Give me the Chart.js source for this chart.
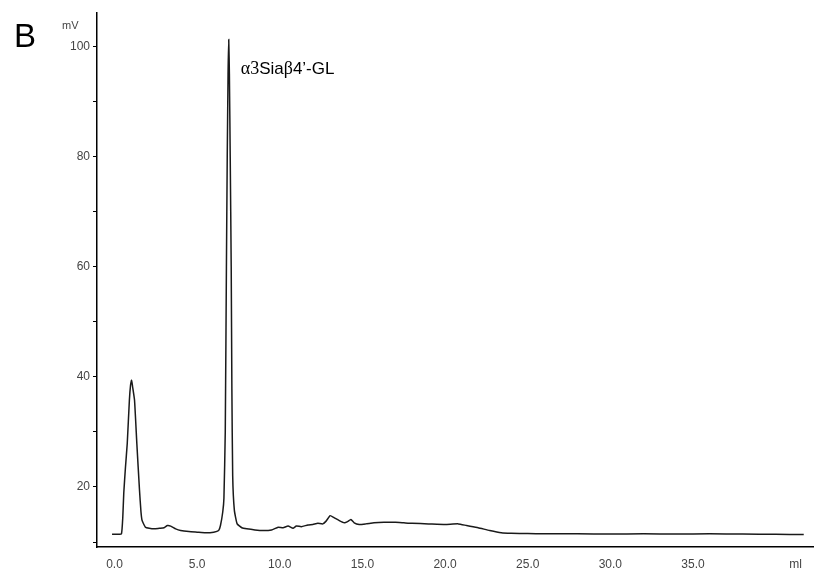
<!DOCTYPE html>
<html>
<head>
<meta charset="utf-8">
<script src="https://cdn.jsdelivr.net/npm/chart.js@4.4.0/dist/chart.umd.min.js"></script>
<style>
  html, body { margin: 0; padding: 0; background: #fff; }
  #wrap { width: 814px; height: 571px; }
</style>
</head>
<body>
<div id="wrap"><canvas id="chart"></canvas></div>
<script>
// elution volume (ml) and detector signal (mV)
const volumes = [-0.15, 0.2, 0.42, 0.5, 0.56, 0.66, 0.77, 0.9, 0.97, 1.03, 1.09, 1.21, 1.35, 1.51, 1.6, 1.67, 1.87,
  2.1, 2.4, 2.7, 3.0, 3.2, 3.4, 3.7, 4.0, 4.5, 5.0, 5.5, 6.0, 6.3, 6.41, 6.55, 6.62, 6.7, 6.77, 6.82, 6.87, 6.91,
  6.95, 7.0, 7.06, 7.1, 7.15, 7.25, 7.42, 7.7, 8.0, 8.5, 9.0, 9.5, 9.9, 10.2, 10.5, 10.8, 11.0, 11.3, 11.7, 12.0,
  12.3, 12.6, 12.8, 13.05, 13.3, 13.6, 13.9, 14.1, 14.3, 14.5, 14.8, 15.2, 15.7, 16.3, 17.0, 17.5, 18.0, 19.0,
  20.0, 20.8, 21.3, 22.0, 22.7, 23.4, 24.0, 25, 26, 28, 30, 32, 34, 36, 38, 40, 41.7];
const signal = [11.4, 11.4, 11.5, 14.5, 18.9, 23.5, 27.9, 35.8, 38.5, 39.4, 38.3, 35.8, 27.9, 19.5, 15.5, 13.9, 12.7,
  12.5, 12.4, 12.5, 12.6, 13.0, 12.9, 12.4, 12.1, 11.9, 11.8, 11.7, 11.8, 12.1, 13.0, 15.5, 18.0, 30, 60, 80, 95, 101.3,
  95, 80, 60, 38, 22, 15.8, 13.3, 12.6, 12.4, 12.2, 12.1, 12.2, 12.7, 12.6, 12.9, 12.5, 12.9, 12.8, 13.1, 13.2,
  13.4, 13.3, 13.8, 14.8, 14.4, 13.9, 13.5, 13.7, 14.1, 13.5, 13.2, 13.3, 13.5, 13.6, 13.6, 13.5, 13.4, 13.3,
  13.2, 13.3, 13.0, 12.6, 12.1, 11.7, 11.6, 11.55, 11.5, 11.5, 11.45, 11.5, 11.45, 11.5, 11.45, 11.4, 11.35];

const xTicks = [0, 5, 10, 15, 20, 25, 30, 35];
const yTicks = [10, 20, 30, 40, 50, 60, 70, 80, 90, 100];
const yLabelled = [20, 40, 60, 80, 100];
const xUnit = 'ml';
const yUnit = 'mV';
const panelLetter = 'B';
const peakVolume = 6.91;
const peakName = [['α3', 'serif'], ['Sia', 'sans'], ['β', 'serif'], ['4\u2019-GL', 'sans']];

const points = volumes.map((v, i) => ({ x: v, y: signal[i] }));

const textPlugin = {
  id: 'texts',
  afterDraw(chart) {
    const ctx = chart.ctx;
    const xs = chart.scales.x, ys = chart.scales.y;
    ctx.save();
    ctx.fillStyle = '#000';
    ctx.textBaseline = 'alphabetic';
    ctx.textAlign = 'left';
    ctx.font = '33px "Liberation Sans", Arial, sans-serif';
    ctx.fillText(panelLetter, 14, 47);

    ctx.fillStyle = '#444';
    ctx.font = '11px "Liberation Sans", Arial, sans-serif';
    ctx.fillText(yUnit, 62, 29);

    // peak label next to the main peak
    let x = xs.getPixelForValue(peakVolume) + 12;
    const y = ys.getPixelForValue(100) + 27;
    ctx.fillStyle = '#000';
    peakName.forEach(([t, f]) => {
      ctx.font = f === 'serif' ? '18px "Liberation Serif", "Times New Roman", serif'
                               : '17px "Liberation Sans", Arial, sans-serif';
      ctx.fillText(t, x, y);
      x += ctx.measureText(t).width;
    });
    ctx.restore();
  }
};

new Chart(document.getElementById('chart'), {
  type: 'line',
  data: {
    datasets: [{
      data: points,
      borderColor: '#1a1a1a',
      borderWidth: 1.5,
      pointRadius: 0,
      tension: 0.15,
      fill: false
    }]
  },
  options: {
    responsive: true,
    maintainAspectRatio: false,
    animation: false,
    layout: { padding: { top: 13, right: 1, left: 0, bottom: 0 } },
    plugins: { legend: { display: false }, tooltip: { enabled: false } },
    scales: {
      x: {
        type: 'linear',
        min: -1.06,
        max: 42.26,
        afterBuildTicks: axis => {
          axis.ticks = xTicks.map(v => ({ value: v })).concat([{ value: 41.2 }]);
        },
        afterFit: scale => { scale.height = 24; },
        grid: { display: false },
        border: { display: true, color: '#000', width: 1.5 },
        ticks: {
          padding: 2,
          color: '#444',
          font: { family: '"Liberation Sans", Arial, sans-serif', size: 12 },
          maxRotation: 0,
          autoSkip: false,
          callback: v => (xTicks.includes(v) ? v.toFixed(1) : xUnit)
        }
      },
      y: {
        min: 9.1,
        max: 106.1,
        afterBuildTicks: axis => { axis.ticks = yTicks.map(v => ({ value: v })); },
        afterFit: scale => { scale.width = 97; },
        grid: { drawOnChartArea: false, drawTicks: true, tickLength: 4, color: '#000', lineWidth: 1 },
        border: { display: true, color: '#000', width: 1.5 },
        ticks: {
          padding: 3,
          color: '#444',
          font: { family: '"Liberation Sans", Arial, sans-serif', size: 12 },
          autoSkip: false,
          callback: v => (yLabelled.includes(v) ? String(v) : '')
        }
      }
    }
  },
  plugins: [textPlugin]
});
</script>
</body>
</html>
